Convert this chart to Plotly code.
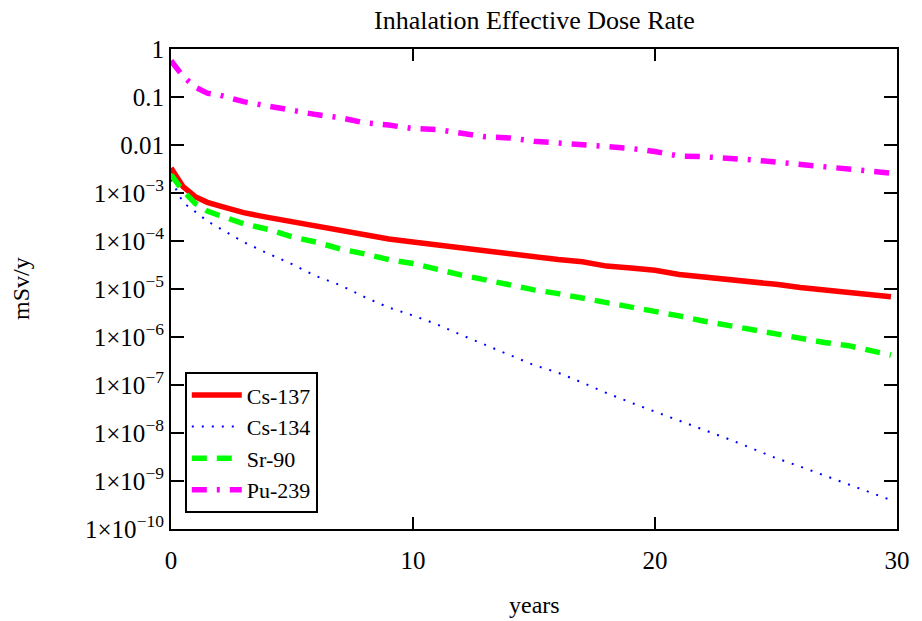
import plotly.graph_objects as go

years = [0, 0.5, 1, 1.5, 2, 3, 4, 5, 6, 7, 8, 9, 10, 11, 12, 13, 14, 15, 16,
         17, 18, 19, 20, 21, 22, 23, 24, 25, 26, 27, 28, 29, 29.75]

cs137 = [3.3e-3, 1.35e-3, 8.4e-4, 6.4e-4, 5.4e-4, 3.9e-4, 3.1e-4, 2.5e-4, 2.0e-4,
         1.7e-4, 1.35e-4, 1.1e-4, 9.5e-5, 8.2e-5, 7.2e-5, 6.2e-5, 5.5e-5, 4.7e-5,
         4.1e-5, 3.7e-5, 3.0e-5, 2.75e-5, 2.45e-5, 2.0e-5, 1.8e-5, 1.58e-5, 1.45e-5,
         1.25e-5, 1.08e-5, 9.7e-6, 8.4e-6, 7.6e-6, 6.9e-6]

cs134 = [1.9e-3, 6.3e-4, 4.1e-4, 2.6e-4, 1.85e-4, 9.5e-5, 5.5e-5, 3.3e-5, 1.85e-5,
         1.2e-5, 6.8e-6, 4.1e-6, 2.8e-6, 1.83e-6, 1.1e-6, 6.7e-7, 4.2e-7, 2.6e-7,
         1.8e-7, 1.12e-7, 6.8e-8, 4.3e-8, 2.8e-8, 1.8e-8, 1.2e-8, 7.6e-9, 4.8e-9,
         3.0e-9, 2.0e-9, 1.3e-9, 8.6e-10, 5.6e-10, 4.0e-10]

sr90 = [2.4e-3, 1.1e-3, 6.1e-4, 4.2e-4, 3.4e-4, 2.3e-4, 1.75e-4, 1.22e-4, 9.5e-5,
        6.8e-5, 5.4e-5, 4.1e-5, 3.4e-5, 2.5e-5, 1.95e-5, 1.55e-5, 1.2e-5, 9.6e-6,
        8.0e-6, 6.5e-6, 5.2e-6, 4.2e-6, 3.4e-6, 2.75e-6, 2.15e-6, 1.75e-6, 1.4e-6,
        1.2e-6, 9.2e-7, 7.7e-7, 6.6e-7, 5.1e-7, 4.2e-7]

pu239 = [0.57, 0.27, 0.16, 0.12, 0.11, 0.08, 0.065, 0.052, 0.043, 0.037, 0.029,
         0.026, 0.022, 0.021, 0.018, 0.0148, 0.014, 0.012, 0.011, 0.0103, 0.0093,
         0.0085, 0.0073, 0.0059, 0.0057, 0.0054, 0.0049, 0.0044, 0.0039, 0.0036,
         0.0032, 0.0028, 0.0026]

y_tickvals = [1, 0.1, 0.01, 1e-3, 1e-4, 1e-5, 1e-6, 1e-7, 1e-8, 1e-9, 1e-10]
y_ticktext = ["1", "0.1", "0.01"] + [f"1×10<sup>−{k}</sup>" for k in range(3, 11)]
x_tickvals = [0, 10, 20, 30]

FONT = "Liberation Serif, Times New Roman, serif"

fig = go.Figure()
fig.add_trace(go.Scatter(x=years, y=cs137, name="Cs-137", mode="lines",
                         line=dict(color="#FF0000", width=5.5)))
fig.add_trace(go.Scatter(x=years, y=cs134, name="Cs-134", mode="lines",
                         line=dict(color="#0000FF", width=2, dash="2px,8px")))
fig.add_trace(go.Scatter(x=years, y=sr90, name="Sr-90", mode="lines",
                         line=dict(color="#00FF00", width=5.5, dash="15px,10px")))
fig.add_trace(go.Scatter(x=years, y=pu239, name="Pu-239", mode="lines",
                         line=dict(color="#FF00FF", width=5.5, dash="15px,10px,3px,10px")))

fig.update_layout(
    width=922, height=621,
    margin=dict(l=171, r=21, t=49, b=92),
    paper_bgcolor="white", plot_bgcolor="white",
    font=dict(family=FONT, size=24, color="black"),
    showlegend=True,
    legend=dict(x=0.019, y=0.033, xanchor="left", yanchor="bottom",
                bgcolor="white", bordercolor="black", borderwidth=2,
                font=dict(family=FONT, size=22, color="black"),
                itemwidth=50, tracegroupgap=0),
    xaxis=dict(range=[0, 30], tickvals=x_tickvals, ticks="inside", ticklen=12,
               tickwidth=2, tickcolor="black", showline=True, linecolor="black",
               linewidth=2, mirror="ticks", showgrid=False, zeroline=False,
               ticklabelstandoff=8,
               tickfont=dict(family=FONT, size=25, color="black")),
    yaxis=dict(type="log", range=[-10, 0], tickvals=y_tickvals, ticktext=y_ticktext,
               ticks="inside", ticklen=13, tickwidth=2, tickcolor="black",
               showline=True, linecolor="black", linewidth=2, mirror="ticks",
               showgrid=False, zeroline=False,
               tickfont=dict(family=FONT, size=25, color="black")),
    annotations=[
        dict(text="Inhalation Effective Dose Rate", xref="paper", yref="paper",
             x=0.5, y=1, yshift=29, xanchor="center", yanchor="middle",
             showarrow=False, font=dict(family=FONT, size=26, color="black")),
        dict(text="years", xref="paper", yref="paper", x=0.5, y=0, yshift=-76,
             xanchor="center", yanchor="middle", showarrow=False,
             font=dict(family=FONT, size=24, color="black")),
        dict(text="mSv/y", xref="paper", yref="paper", x=0, y=0.5, xshift=-150,
             xanchor="center", yanchor="middle", textangle=-90, showarrow=False,
             font=dict(family=FONT, size=24, color="black")),
    ],
)

fig.write_html("out.html")
